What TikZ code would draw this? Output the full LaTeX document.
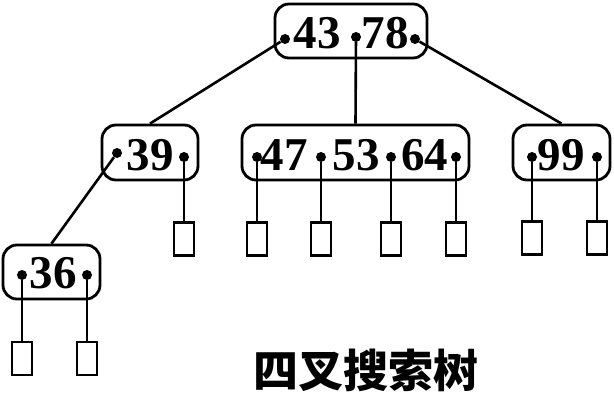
\documentclass[tikz,border=0pt]{standalone}
\usepackage{fontspec}
\setmainfont{Liberation Serif}
\newfontfamily\cjk{Noto Sans CJK SC}
\usetikzlibrary{positioning,calc}
\tikzset{
  keybox/.style={draw=black,line width=2.8pt,rounded corners=14pt,minimum height=54pt,inner sep=0pt},
  key/.style={font=\fontsize{47}{47}\selectfont\bfseries,inner sep=0pt},
  dot/.style={circle,fill=black,inner sep=0pt,minimum size=10pt},
  leaf/.style={draw=black,line width=2.6pt,minimum width=20pt,minimum height=33pt,inner sep=0pt},
  link/.style={draw=black,line width=2.6pt},
}

\begin{document}
\begin{tikzpicture}[x=1pt,y=-1pt]
  \useasboundingbox (0,0) rectangle (614,401);

  % boxes
  \node[keybox,minimum width=152pt] (root) at (351,31) {};
  \node[keybox,minimum width=96pt,minimum height=55pt] (b39) at (150,152.5) {};
  \node[keybox,minimum width=227pt,minimum height=55pt] (b47) at (355.5,152.5) {};
  \node[keybox,minimum width=97pt,minimum height=55pt] (b99) at (561.5,152.5) {};
  \node[keybox,minimum width=97pt,minimum height=54pt] (b36) at (51.5,272) {};

  % keys
  \node[key] (k43) at (317,33) {43};
  \node[key] (k78) at (385,33) {78};
  \node[key] (k39) at (150,155.5) {39};
  \node[key] (k47) at (284,155.5) {47};
  \node[key] (k53) at (356,155.5) {53};
  \node[key] (k64) at (424.5,155.5) {64};
  \node[key] (k99) at (561,155.5) {99};
  \node[key] (k36) at (53.5,273) {36};

  % pointers
  \node[dot] (r0) at (285,39) {};
  \node[dot] (r1) at (356,37) {};
  \node[dot] (r2) at (415,39) {};
  \node[dot] (p390) at (117,153) {};
  \node[dot] (p391) at (184,157) {};
  \node[dot] (p470) at (257,157) {};
  \node[dot] (p471) at (321,157) {};
  \node[dot] (p472) at (391,157) {};
  \node[dot] (p473) at (456,157) {};
  \node[dot] (p990) at (532,157) {};
  \node[dot] (p991) at (597,157) {};
  \node[dot] (p360) at (22,275) {};
  \node[dot] (p361) at (87,275) {};

  % empty subtrees
  \node[leaf] (l1) at (184,239) {};
  \node[leaf] (l2) at (257,239) {};
  \node[leaf] (l3) at (321,239) {};
  \node[leaf] (l4) at (391,239) {};
  \node[leaf] (l5) at (456,239) {};
  \node[leaf] (l6) at (532,238) {};
  \node[leaf] (l7) at (597,238) {};
  \node[leaf] (l8) at (22,358.5) {};
  \node[leaf] (l9) at (87,358.5) {};

  % links
  \draw[link] (r0) -- (b39.north);
  \draw[link] (r1) -- (b47.north);
  \draw[link] (r2) -- (b99.north);
  \draw[link] (p390) -- (b36.north);
  \draw[link] (p391) -- (l1.north);
  \draw[link] (p470) -- (l2.north);
  \draw[link] (p471) -- (l3.north);
  \draw[link] (p472) -- (l4.north);
  \draw[link] (p473) -- (l5.north);
  \draw[link] (p990) -- (l6.north);
  \draw[link] (p991) -- (l7.north);
  \draw[link] (p360) -- (l8.north);
  \draw[link] (p361) -- (l9.north);

  \node[font=\cjk\bfseries\fontsize{45}{45}\selectfont,inner sep=0pt] (title) at (366,370) {四叉搜索树};
\end{tikzpicture}
\end{document}
